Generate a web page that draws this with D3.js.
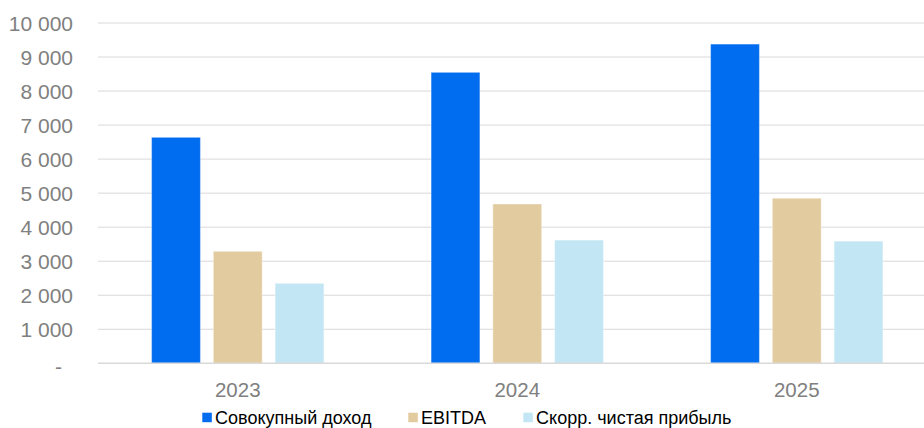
<!DOCTYPE html>
<html>
<head>
<meta charset="utf-8">
<script src="https://cdn.jsdelivr.net/npm/d3@7"></script>
<style>
  html, body { margin: 0; padding: 0; background: #fff; }
  svg { display: block; font-family: "Liberation Sans", Arial, sans-serif; }
</style>
</head>
<body>
<svg id="chart" width="924" height="428"></svg>
<script>
// Years on the category axis
const years = ["2023", "2024", "2025"];
// Series names (legend order)
const seriesNames = ["Совокупный доход", "EBITDA", "Скорр. чистая прибыль"];
// Values per series, one per year
const totalIncome = [6640, 8550, 9380];
const ebitda = [3290, 4680, 4850];
const adjNetProfit = [2350, 3620, 3590];
// Y-axis ticks
const yTicks = [0, 1000, 2000, 3000, 4000, 5000, 6000, 7000, 8000, 9000, 10000];

(function () {
  const colors = ["#006cef", "#e2cb9f", "#c3e6f4"];
  const seriesValues = [totalIncome, ebitda, adjNetProfit];

  const rows = years.map((yr, i) => ({
    year: yr,
    vals: seriesNames.map((s, k) => ({ key: s, value: seriesValues[k][i], color: colors[k] }))
  }));

  const svg = d3.select("#chart");
  const W = 924;
  const m = { left: 98, right: 936.5, top: 23, bottom: 363.3 };

  const x0 = d3.scaleBand().domain(years).range([m.left, m.right]).padding(0);
  const x1 = d3.scaleBand().domain(seriesNames)
    .range([53.6, x0.bandwidth() - 53.6]).paddingInner(0.21).paddingOuter(0);
  const y = d3.scaleLinear().domain([0, 10000]).range([m.bottom, m.top]);

  // Gridlines
  svg.append("g")
    .selectAll("line")
    .data(yTicks.filter(t => t > 0))
    .join("line")
    .attr("x1", m.left).attr("x2", W)
    .attr("y1", d => y(d)).attr("y2", d => y(d))
    .attr("stroke", "#d9d9d9").attr("stroke-width", 1);

  // Y axis labels (zero shown as a dash, thousands separated by a space)
  const fmt = v => v === 0 ? "-" : d3.format(",")(v).replace(/,/g, "\u00a0");
  const yAxis = d3.axisLeft(y).tickValues(yTicks).tickFormat(fmt).tickSize(0).tickPadding(0);
  const gy = svg.append("g").attr("transform", "translate(73,0)").call(yAxis);
  gy.select(".domain").remove();
  gy.selectAll("text")
    .attr("fill", "#808080").attr("font-size", 21).attr("dy", "0.36em")
    .attr("font-family", "\"Liberation Sans\", Arial, sans-serif");
  gy.selectAll(".tick").filter(d => d === 0).select("text").attr("dx", -11).attr("dy", "0.5em");

  // Bars
  const groups = svg.append("g").selectAll("g")
    .data(rows).join("g")
    .attr("transform", d => `translate(${x0(d.year)},0)`);
  groups.selectAll("rect")
    .data(d => d.vals).join("rect")
    .attr("x", d => x1(d.key))
    .attr("width", x1.bandwidth())
    .attr("y", d => y(d.value))
    .attr("height", d => y(0) - y(d.value))
    .attr("fill", d => d.color)
    .attr("stroke", "#ffffff").attr("stroke-opacity", 0.35).attr("stroke-width", 1);

  // Baseline
  svg.append("line")
    .attr("x1", m.left).attr("x2", W)
    .attr("y1", y(0)).attr("y2", y(0))
    .attr("stroke", "#d9d9d9").attr("stroke-width", 1.5);

  // X axis labels
  const xAxis = d3.axisBottom(x0).tickSize(0).tickPadding(19);
  const gx = svg.append("g").attr("transform", `translate(0,${y(0)})`).call(xAxis);
  gx.select(".domain").remove();
  gx.selectAll("text")
    .attr("fill", "#808080").attr("font-size", 20.5)
    .attr("font-family", "\"Liberation Sans\", Arial, sans-serif");

  // Legend
  const legendX = [202.3, 408.3, 523.3];
  const leg = svg.append("g").selectAll("g")
    .data(seriesNames).join("g")
    .attr("transform", (d, i) => `translate(${legendX[i]},424)`);
  leg.append("rect")
    .attr("x", 0).attr("y", -11.3).attr("width", 9.5).attr("height", 9.5)
    .attr("fill", (d, i) => colors[i]);
  leg.append("text")
    .attr("x", 12.8).attr("y", 0)
    .attr("font-size", 18).attr("fill", "#000")
    .text(d => d);
})();
</script>
</body>
</html>
